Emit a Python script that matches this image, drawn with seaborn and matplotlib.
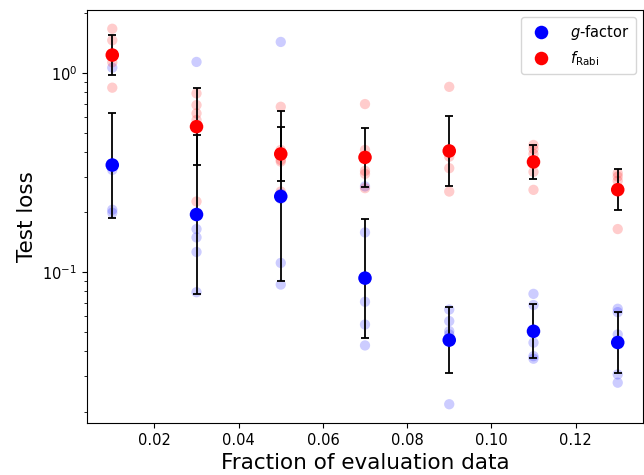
import numpy as np
import pandas as pd
import matplotlib
matplotlib.use("Agg")
import matplotlib.pyplot as plt
import seaborn as sns

# fraction of evaluation data used
fractions = [0.01, 0.03, 0.05, 0.07, 0.09, 0.11, 0.13]

# test loss of each of the 5 runs per fraction
g_factor_runs = [
    [1.059, 0.3447, 0.3255, 0.2054, 0.1984],
    [1.132, 0.1644, 0.1493, 0.1262, 0.0793],
    [1.426, 0.2470, 0.2331, 0.1112, 0.0866],
    [0.2692, 0.1581, 0.0710, 0.0546, 0.0429],
    [0.0649, 0.0568, 0.0506, 0.0487, 0.02176],
    [0.0778, 0.0684, 0.0443, 0.0379, 0.0368],
    [0.0655, 0.0630, 0.0487, 0.0307, 0.0279],
]
f_rabi_runs = [
    [1.660, 1.454, 1.209, 1.128, 0.841],
    [0.787, 0.688, 0.625, 0.579, 0.226],
    [0.6745, 0.4097, 0.3652, 0.3581, 0.2535],
    [0.696, 0.4097, 0.3218, 0.3109, 0.2636],
    [0.849, 0.4027, 0.3793, 0.3319, 0.2535],
    [0.4341, 0.4146, 0.3914, 0.3181, 0.2585],
    [0.3133, 0.3013, 0.2868, 0.2616, 0.1644],
]

labels = {"g": "$g$-factor", "f": r"$f_{\rm Rabi}$"}
colors = {"$g$-factor": "blue", r"$f_{\rm Rabi}$": "red"}

rows = []
for key, runs in [("g", g_factor_runs), ("f", f_rabi_runs)]:
    for frac, vals in zip(fractions, runs):
        for v in vals:
            rows.append({"frac": frac, "loss": v, "quantity": labels[key]})
df = pd.DataFrame(rows)

# mean and std taken in log space
df["logloss"] = np.log10(df["loss"])
grouped = df.groupby(["quantity", "frac"], sort=False)["logloss"]
summary = grouped.mean().rename("mean").reset_index()
summary["std"] = grouped.std(ddof=0).values
summary["center"] = 10 ** summary["mean"]
summary["lo"] = summary["center"] - 10 ** (summary["mean"] - summary["std"])
summary["hi"] = 10 ** (summary["mean"] + summary["std"]) - summary["center"]

fig = plt.figure(figsize=(6.44, 4.75), dpi=100)
ax = fig.add_axes([87 / 644, 1 - 423 / 475, 556 / 644, 413 / 475])

sns.scatterplot(data=df, x="frac", y="loss", hue="quantity", palette=colors,
                alpha=0.2, s=55, linewidth=0, legend=False, ax=ax)

for q in colors:
    sub = summary[summary["quantity"] == q]
    ax.errorbar(sub["frac"], sub["center"], yerr=[sub["lo"], sub["hi"]],
                fmt="none", ecolor="black", elinewidth=1.3, capsize=3, capthick=1.3)

sns.scatterplot(data=summary, x="frac", y="center", hue="quantity", palette=colors,
                s=95, linewidth=0, ax=ax, zorder=3)

ax.set_yscale("log")
ax.set_xlabel("Fraction of evaluation data", fontsize=15.5)
ax.set_ylabel("Test loss", fontsize=15.5)
ax.tick_params(labelsize=10.5)
ax.legend(loc="upper right", fontsize=10.5, title=None, handletextpad=1.0)

fig.savefig("out.png", dpi=100)
